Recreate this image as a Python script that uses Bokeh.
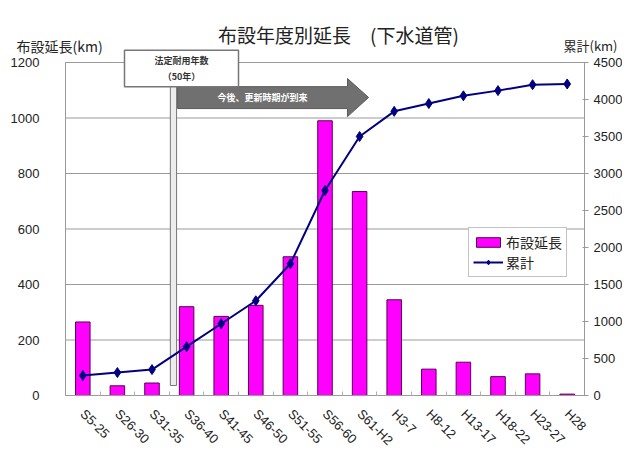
import math
from bokeh.plotting import figure
from bokeh.models import Range1d, LinearAxis, FixedTicker, Label
from bokeh.embed import file_html
from bokeh.resources import INLINE

# ---- data ----
categories = ["S5-25", "S26-30", "S31-35", "S36-40", "S41-45", "S46-50", "S51-55",
              "S56-60", "S61-H2", "H3-7", "H8-12", "H13-17", "H18-22", "H23-27", "H28"]
lengths = [265, 35, 45, 320, 285, 325, 500, 990, 735, 345, 95, 120, 68, 78, 5]
cumulative = [270, 310, 350, 660, 970, 1280, 1780, 2770, 3500, 3840, 3945, 4050, 4120, 4200, 4210]
left_ticks = [0, 200, 400, 600, 800, 1000, 1200]
right_ticks = [0, 500, 1000, 1500, 2000, 2500, 3000, 3500, 4000, 4500]

JP = "Noto Sans CJK JP"
LAT = "Liberation Sans"

# ---- layout (pixels in the canvas) ----
W, H = 622, 447
PX_L, PX_R, PX_T, PX_B = 65, 584, 62, 395     # plot area edges
n = len(categories)
L_MAX, R_MAX = left_ticks[-1], right_ticks[-1]
ux = (PX_R - PX_L) / n
uy = (PX_B - PX_T) / L_MAX
x_range = Range1d(-PX_L / ux, n + (W - PX_R) / ux)
y_range = Range1d(-(H - PX_B) / uy, L_MAX + PX_T / uy)
k = R_MAX / L_MAX
cum_range = Range1d(y_range.start * k, y_range.end * k)

centers = [i + 0.5 for i in range(n)]
boundaries = list(range(1, n))

p = figure(width=W, height=H, x_range=x_range, y_range=y_range,
           output_backend="svg", toolbar_location=None, x_axis_type=None, y_axis_type=None,
           min_border=0, min_border_left=0, min_border_right=0,
           min_border_top=0, min_border_bottom=0)
p.extra_y_ranges = {"cum": cum_range}
p.outline_line_color = None
p.background_fill_color = "white"
p.border_fill_color = "white"
p.grid.visible = False

# horizontal grid lines at the left-axis ticks (only across the plot area)
p.segment(x0=[0] * len(left_ticks), x1=[n] * len(left_ticks), y0=left_ticks, y1=left_ticks,
          line_color="#9a9a9a", line_width=1)

# left axis
ya = LinearAxis(ticker=FixedTicker(ticks=left_ticks), fixed_location=0, bounds=(0, L_MAX))
ya.major_tick_line_color = None
ya.minor_tick_line_color = None
ya.axis_line_color = "#9a9a9a"
ya.major_label_standoff = 20
ya.major_label_text_font = LAT
ya.major_label_text_font_size = "13px"
ya.major_label_text_color = "#222222"
p.add_layout(ya, "left")

# right axis
ra = LinearAxis(y_range_name="cum", ticker=FixedTicker(ticks=right_ticks),
                fixed_location=n, bounds=(0, R_MAX))
ra.major_tick_out = 4
ra.major_tick_in = 2
ra.major_tick_line_color = "#9a9a9a"
ra.minor_tick_line_color = None
ra.axis_line_color = "#9a9a9a"
ra.major_label_standoff = 5
ra.major_label_text_font = LAT
ra.major_label_text_font_size = "13px"
ra.major_label_text_color = "#222222"
p.add_layout(ra, "right")

# bottom axis (category names at the bar centres, small ticks between categories)
xa = LinearAxis(ticker=FixedTicker(ticks=centers, minor_ticks=boundaries),
                fixed_location=0, bounds=(0, n),
                major_label_overrides={c: name for c, name in zip(centers, categories)})
xa.major_label_orientation = -math.pi / 4
xa.major_tick_line_color = None
xa.minor_tick_line_color = "#b0b0b0"
xa.minor_tick_in = 4
xa.minor_tick_out = 0
xa.axis_line_color = "#9a9a9a"
xa.major_label_text_font = LAT
xa.major_label_text_font_size = "13px"
xa.major_label_text_color = "#222222"
xa.major_label_standoff = 10
p.add_layout(xa, "below")

# annotations: statutory life marker and arrow
p.quad(left=3.03, right=3.21, top=1117, bottom=36, fill_color="#ececec",
       line_color="#777777", line_width=1)
p.patch(x=[3.24, 8.15, 8.15, 8.76, 8.15, 8.15, 3.24],
        y=[1113, 1113, 1142, 1074, 1005, 1034, 1034],
        fill_color="#707070", line_color="#5a5a5a", line_width=1)
p.add_layout(Label(x=262, y=97, x_units="canvas", y_units="canvas",
                   text="今後、更新時期が到来", text_align="center",
                   text_baseline="middle", text_color="white", text_font=JP,
                   text_font_size="9px", text_font_style="bold"))
p.add_layout(Label(x=181, y=68, x_units="canvas", y_units="canvas",
                   text="法定耐用年数\n（50年）", text_align="center",
                   text_baseline="middle", text_color="#333333", text_font=JP,
                   text_font_size="9px", text_font_style="bold",
                   background_fill_color="white", border_line_color="#777777",
                   border_line_width=1.5, padding=dict(left=30, right=30, top=4, bottom=4)))

# data marks
p.vbar(x=centers, top=lengths, width=0.42, fill_color="#FF00FF",
       line_color="#5a005a", line_width=1, legend_label="布設延長")
p.line(x=centers, y=cumulative, y_range_name="cum", line_color="#000080",
       line_width=2, legend_label="累計")
p.scatter(x=centers, y=cumulative, y_range_name="cum", marker="diamond", size=10,
          fill_color="#000080", line_color="#000080", legend_label="累計")

# titles
p.add_layout(Label(x=338, y=34, x_units="canvas", y_units="canvas",
                   text="布設年度別延長　(下水道管)", text_align="center",
                   text_baseline="middle", text_color="#222222", text_font=JP,
                   text_font_size="19px"))
p.add_layout(Label(x=16, y=45, x_units="canvas", y_units="canvas",
                   text="布設延長(km)", text_align="left",
                   text_baseline="middle", text_color="#222222", text_font=JP,
                   text_font_size="14px"))
p.add_layout(Label(x=563, y=45, x_units="canvas", y_units="canvas",
                   text="累計(km)", text_align="left",
                   text_baseline="middle", text_color="#222222", text_font=JP,
                   text_font_size="13px"))

# legend
lg = p.legend[0]
lg.location = (468, H - 277)
lg.border_line_color = "#888888"
lg.background_fill_color = "white"
lg.background_fill_alpha = 1
lg.label_text_font = JP
lg.label_text_font_size = "14px"
lg.label_text_color = "#222222"
lg.glyph_width = 30
lg.glyph_height = 12
lg.spacing = 0
lg.padding = 4
lg.margin = 0
lg.label_standoff = 3
lg.label_height = 18

open("out.html", "w").write(file_html(p, INLINE))
